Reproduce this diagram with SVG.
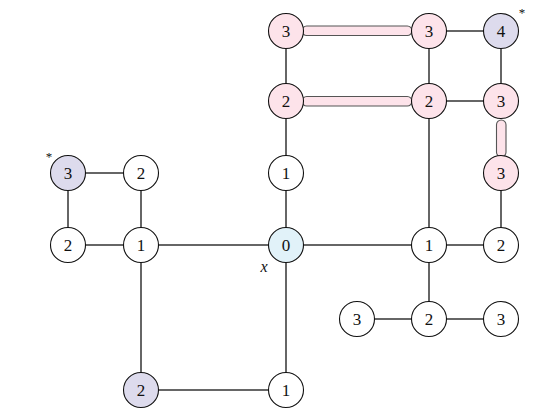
<svg xmlns="http://www.w3.org/2000/svg" width="537" height="420" viewBox="0 0 537 420">
<style>
.e{stroke:#666;stroke-width:2;fill:none}
.n circle{stroke:#111;stroke-width:1.1;fill:#fff}
.n text{font-family:"Liberation Serif",serif;font-size:17px;text-anchor:middle;fill:#111}
.p circle{fill:#fde3ea}
.l circle{fill:#dddbed}
.b circle{fill:#e1f2f9}
.bar{fill:#fde3ea;stroke:#555;stroke-width:1.1}
.m{font-family:"Liberation Serif",serif;fill:#111}
</style>
<rect width="537" height="420" fill="#fff"/>
<g id="connectors">
<line class="e" x1="286" y1="31" x2="286" y2="101"/>
<line class="e" x1="286" y1="101" x2="286" y2="173"/>
<line class="e" x1="286" y1="173" x2="286" y2="245"/>
<line class="e" x1="286" y1="245" x2="286" y2="390"/>
<line class="e" x1="429" y1="31" x2="501" y2="31"/>
<line class="e" x1="429" y1="31" x2="429" y2="101"/>
<line class="e" x1="501" y1="31" x2="501" y2="101"/>
<line class="e" x1="429" y1="101" x2="501" y2="101"/>
<line class="e" x1="429" y1="101" x2="429" y2="245"/>
<line class="e" x1="501" y1="173" x2="501" y2="245"/>
<line class="e" x1="429" y1="245" x2="501" y2="245"/>
<line class="e" x1="286" y1="245" x2="429" y2="245"/>
<line class="e" x1="429" y1="245" x2="429" y2="319"/>
<line class="e" x1="357" y1="319" x2="501" y2="319"/>
<line class="e" x1="141" y1="245" x2="286" y2="245"/>
<line class="e" x1="68" y1="173" x2="141" y2="173"/>
<line class="e" x1="68" y1="173" x2="68" y2="245"/>
<line class="e" x1="141" y1="173" x2="141" y2="245"/>
<line class="e" x1="68" y1="245" x2="141" y2="245"/>
<line class="e" x1="141" y1="245" x2="141" y2="390"/>
<line class="e" x1="141" y1="390" x2="286" y2="390"/>
<rect class="bar" x="302" y="26" width="110" height="9.5" rx="4.7"/>
<rect class="bar" x="302" y="96.5" width="110" height="9.5" rx="4.7"/>
<rect class="bar" x="496.5" y="120" width="9.5" height="37" rx="4.7"/>
</g>
<g id="n_a" class="n p"><circle cx="286" cy="31" r="17.5"/><text x="286" y="37">3</text></g>
<g id="n_b" class="n p"><circle cx="429" cy="31" r="17.5"/><text x="429" y="37">3</text></g>
<g id="n_c" class="n l"><circle cx="501" cy="31" r="17.5"/><text x="501" y="37">4</text></g>
<g id="n_d" class="n p"><circle cx="286" cy="101" r="17.5"/><text x="286" y="107">2</text></g>
<g id="n_e" class="n p"><circle cx="429" cy="101" r="17.5"/><text x="429" y="107">2</text></g>
<g id="n_f" class="n p"><circle cx="501" cy="101" r="17.5"/><text x="501" y="107">3</text></g>
<g id="n_g" class="n l"><circle cx="68" cy="173" r="17.5"/><text x="68" y="179">3</text></g>
<g id="n_h" class="n"><circle cx="141" cy="173" r="17.5"/><text x="141" y="179">2</text></g>
<g id="n_i" class="n"><circle cx="286" cy="173" r="17.5"/><text x="286" y="179">1</text></g>
<g id="n_j" class="n p"><circle cx="501" cy="173" r="17.5"/><text x="501" y="179">3</text></g>
<g id="n_k" class="n"><circle cx="68" cy="245" r="17.5"/><text x="68" y="251">2</text></g>
<g id="n_l" class="n"><circle cx="141" cy="245" r="17.5"/><text x="141" y="251">1</text></g>
<g id="n_x" class="n b"><circle cx="286" cy="245" r="17.5"/><text x="286" y="251">0</text></g>
<g id="n_m" class="n"><circle cx="429" cy="245" r="17.5"/><text x="429" y="251">1</text></g>
<g id="n_n" class="n"><circle cx="501" cy="245" r="17.5"/><text x="501" y="251">2</text></g>
<g id="n_o" class="n"><circle cx="357" cy="319" r="17.5"/><text x="357" y="325">3</text></g>
<g id="n_p" class="n"><circle cx="429" cy="319" r="17.5"/><text x="429" y="325">2</text></g>
<g id="n_q" class="n"><circle cx="501" cy="319" r="17.5"/><text x="501" y="325">3</text></g>
<g id="n_r" class="n l"><circle cx="141" cy="390" r="17.5"/><text x="141" y="396">2</text></g>
<g id="n_s" class="n"><circle cx="286" cy="390" r="17.5"/><text x="286" y="396">1</text></g>
<text class="m" x="264" y="272" font-size="16" font-style="italic" text-anchor="middle">x</text>
<text class="m" x="522" y="17" font-size="13" text-anchor="middle">*</text>
<text class="m" x="49" y="161" font-size="13" text-anchor="middle">*</text>
</svg>
